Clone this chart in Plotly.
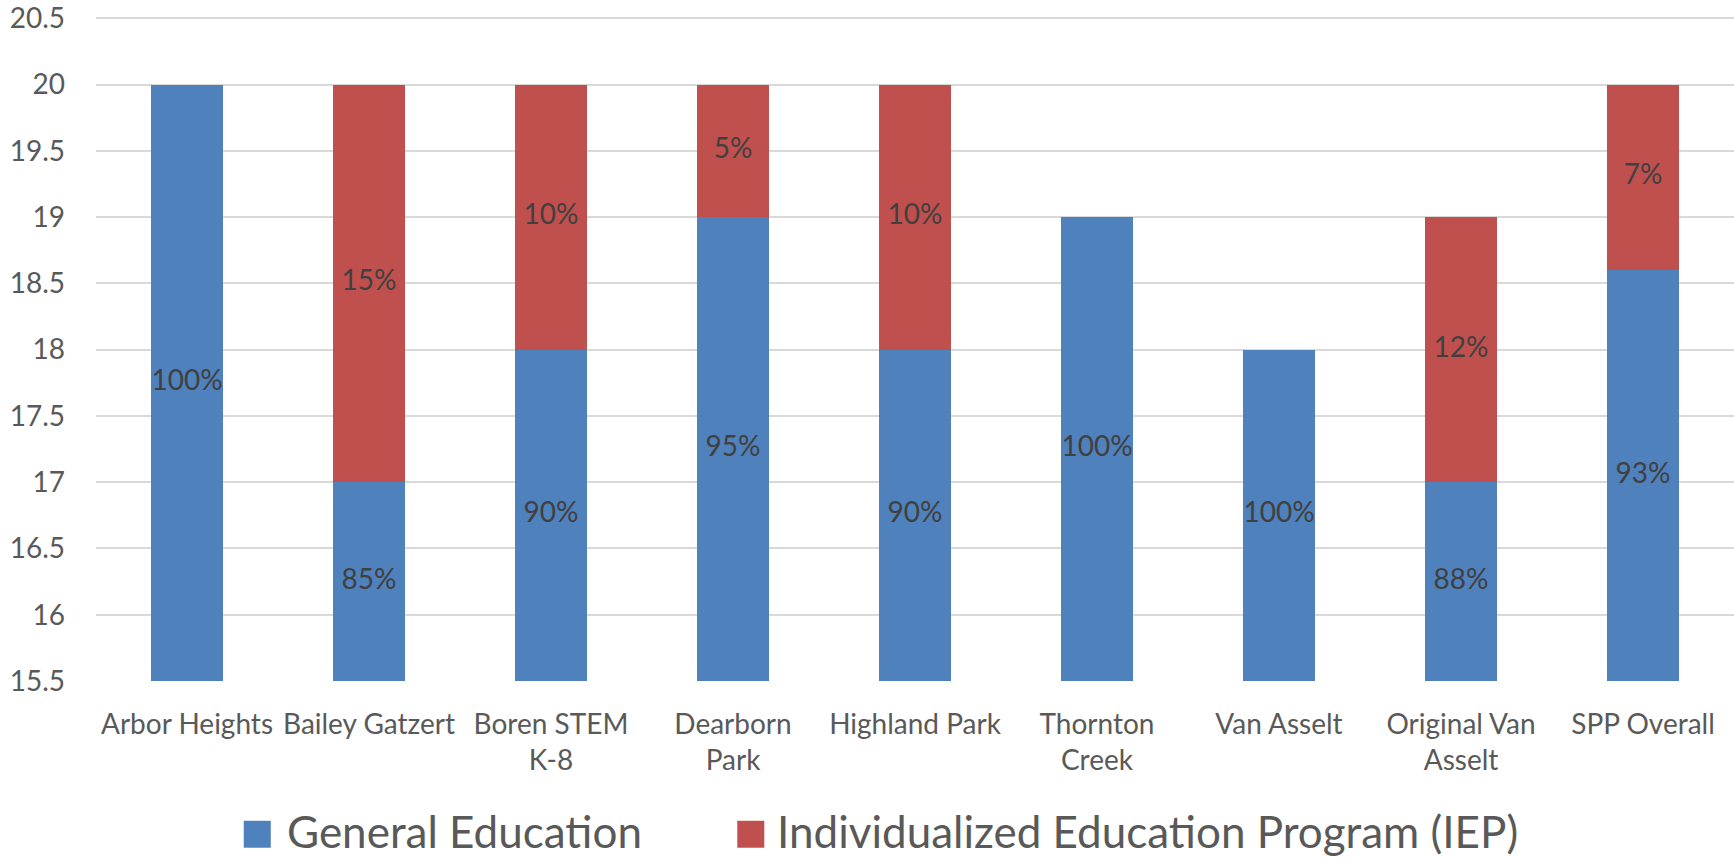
import plotly.graph_objects as go

categories = ["Arbor Heights", "Bailey Gatzert", "Boren STEM<br>K-8", "Dearborn<br>Park",
              "Highland Park", "Thornton<br>Creek", "Van Asselt", "Original Van<br>Asselt", "SPP Overall"]
general_ed = [20, 17, 18, 19, 18, 19, 18, 17, 18.6]
iep = [0, 3, 2, 1, 2, 0, 0, 2, 1.4]
general_labels = ["100%", "85%", "90%", "95%", "90%", "100%", "100%", "88%", "93%"]
iep_labels = ["", "15%", "10%", "5%", "10%", "", "", "12%", "7%"]
y_min, y_max = 15.5, 20.5
y_ticks = [15.5, 16, 16.5, 17, 17.5, 18, 18.5, 19, 19.5, 20, 20.5]

BLUE = "#4F81BD"
RED = "#C0504D"
FONT = "Lato"
TICK_COLOR = "#595959"
LABEL_COLOR = "#404040"

fig = go.Figure()
fig.add_trace(go.Bar(x=categories, y=general_ed, name="General Education",
                     marker=dict(color=BLUE, line=dict(width=0)), width=0.4, showlegend=False))
fig.add_trace(go.Bar(x=categories, y=iep, name="Individualized Education Program (IEP)",
                     marker=dict(color=RED, line=dict(width=0)), width=0.4, showlegend=False))

# data labels at centre of the visible part of each segment
gen_mid = [(y_min + g) / 2 for g in general_ed]
iep_mid = [g + v / 2 for g, v in zip(general_ed, iep)]
fig.add_trace(go.Scatter(x=categories, y=gen_mid, mode="text", text=general_labels,
                         textfont=dict(family=FONT, size=28, color=LABEL_COLOR),
                         showlegend=False, hoverinfo="skip"))
fig.add_trace(go.Scatter(x=categories, y=iep_mid, mode="text", text=iep_labels,
                         textfont=dict(family=FONT, size=28, color=LABEL_COLOR),
                         showlegend=False, hoverinfo="skip"))

# custom legend (paper coordinates)
legend_items = [("General Education", BLUE, 0.0902, 0.1152),
                ("Individualized Education Program (IEP)", RED, 0.3915, 0.4146)]
for label, color, sx, tx in legend_items:
    fig.add_shape(type="rect", xref="paper", yref="paper",
                  x0=sx, x1=sx + 0.0165, y0=-0.2511, y1=-0.2105,
                  fillcolor=color, line=dict(width=0))
    fig.add_annotation(xref="paper", yref="paper", x=tx, y=-0.2256, text=label,
                       showarrow=False, xanchor="left", yanchor="middle",
                       font=dict(family=FONT, size=44, color=TICK_COLOR))

fig.update_layout(
    barmode="stack",
    bargap=0.6,
    width=1734, height=861,
    margin=dict(l=96, r=0, t=15, b=180),
    paper_bgcolor="white", plot_bgcolor="white",
    font=dict(family=FONT, color=TICK_COLOR),
    showlegend=False,
)
fig.update_yaxes(range=[y_min, y_max + 0.01], tickvals=y_ticks, ticktext=[f"{v:g}" for v in y_ticks],
                 showgrid=True, gridcolor="#D9D9D9", gridwidth=1.5, zeroline=False,
                 showline=False, ticks="", ticklabelstandoff=30, ticklabeloverflow="allow",
                 tickfont=dict(family=FONT, size=28, color=TICK_COLOR))
fig.update_xaxes(showgrid=False, showline=False, ticks="", ticklabelstandoff=24,
                 tickfont=dict(family=FONT, size=28, color=TICK_COLOR), tickangle=0)

fig.write_html("out.html")
